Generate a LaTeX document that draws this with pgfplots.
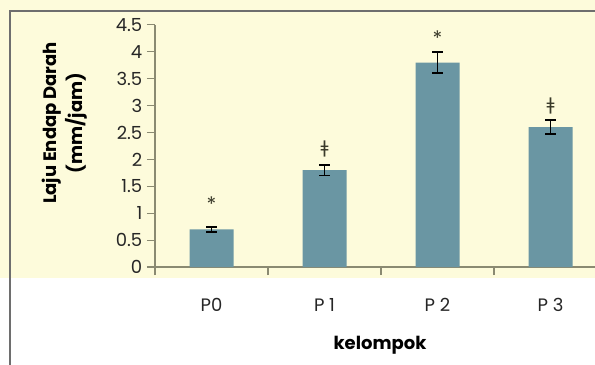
\documentclass[border=0pt]{standalone}
\usepackage{fontspec}
\setmainfont{Poppins}
\newfontfamily\dejavu{DejaVu Sans}
\usepackage{pgfplots}
\pgfplotsset{compat=1.18}
\definecolor{barc}{HTML}{6A96A3}
\definecolor{bgy}{HTML}{FDFBDB}
\definecolor{axc}{HTML}{8A8A72}
\definecolor{mk}{HTML}{3A3A2A}
\definecolor{frm}{HTML}{6E6E6E}
\begin{document}
\begin{tikzpicture}
\useasboundingbox (-116.25pt,-72.75pt) rectangle (330pt,200.25pt);
\clip (-116.25pt,-72.75pt) rectangle (330pt,200.25pt);
\fill[white] (-116.25pt,-72.75pt) rectangle (330pt,200.25pt);
\fill[bgy] (-116.25pt,-8pt) rectangle (330pt,200.25pt);
\fill[frm] (-109.35pt,-80pt) rectangle (-108.15pt,193.1pt);
\fill[frm] (-109.35pt,191.6pt) rectangle (335pt,193.1pt);
\begin{axis}[
  anchor=south west, at={(0pt,0pt)}, scale only axis,
  width=329.7pt, height=181.6pt,
  xmin=-0.5, xmax=3.39, ymin=0, ymax=4.5,
  axis x line*=bottom, axis y line*=left,
  axis line style={-, axc, line width=0.9pt},
  tick align=outside, major tick length=6pt,
  tick style={axc, line width=0.8pt},
  ytick={0,0.5,1,1.5,2,2.5,3,3.5,4,4.5},
  yticklabels={0,0.5,1,1.5,2,2.5,3,3.5,4,4.5},
  yticklabel style={font=\fontsize{13.5}{14}\selectfont, text=black!85},
  xtick={-0.5,0.5,1.5,2.5}, xticklabels={},
  extra x ticks={0,1,2,3},
  extra x tick labels={P0,P 1,P 2,P 3},
  extra x tick style={major tick length=0pt, tick style={draw=none},
     xticklabel style={font=\fontsize{13.5}{14}\selectfont, text=black!85, yshift=-20pt}},
  /pgf/number format/assume math mode=true,
  clip=false,
]
\addplot[ybar, bar width=33pt, fill=barc, draw=none,
  error bars/.cd, y dir=both, y explicit,
  error bar style={black, line width=1.3pt},
  error mark options={rotate=90, mark size=4pt, line width=1.3pt, black}]
  table[x=x, y=y, y error=e] {
  x y e
  0 0.70 0.05
  1 1.80 0.10
  2 3.80 0.19
  3 2.60 0.13
};
\node[text=mk, font=\fontsize{15}{15}\selectfont] at (axis cs:0,1.17) {*};
\node[text=mk, font=\dejavu\fontsize{13}{13}\selectfont] at (axis cs:1,2.19) {ǂ};
\node[text=mk, font=\fontsize{15}{15}\selectfont] at (axis cs:2,4.26) {*};
\node[text=mk, font=\dejavu\fontsize{13}{13}\selectfont] at (axis cs:3,2.99) {ǂ};
\end{axis}
\node[rotate=90, align=center, font=\bfseries\fontsize{13.5}{19.5}\selectfont] at (-67.5pt,108pt) {Laju Endap Darah\\(mm/jam)};
\node[font=\bfseries\fontsize{13.5}{14}\selectfont] at (168.75pt,-58.5pt) {kelompok};
\end{tikzpicture}
\end{document}
